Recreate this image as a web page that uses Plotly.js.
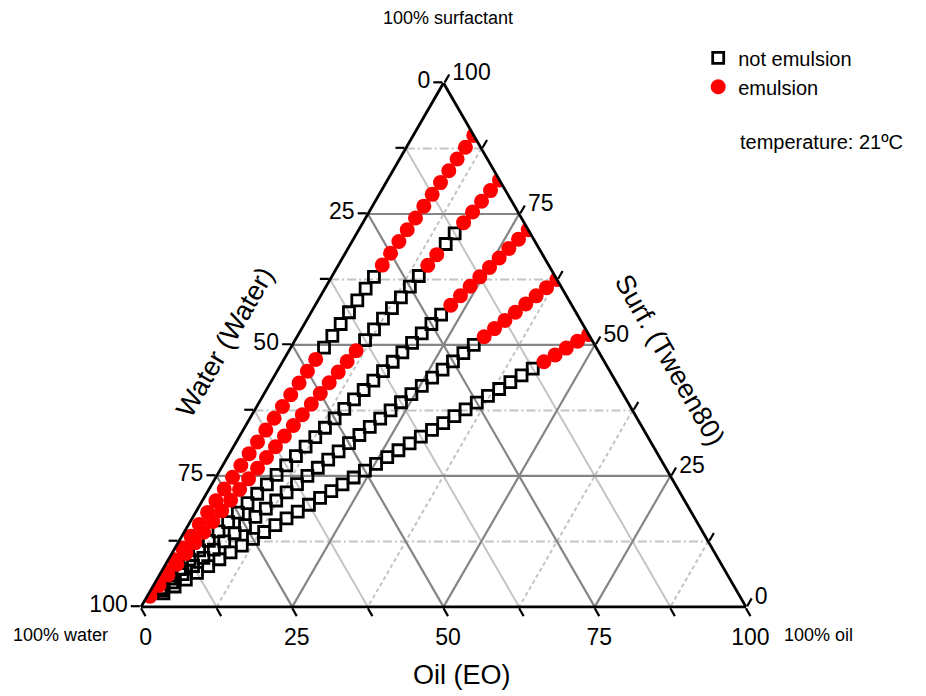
<!DOCTYPE html>
<html>
<head>
<meta charset="utf-8">
<script src="https://cdn.plot.ly/plotly-3.0.1.min.js"></script>
<style>html,body{margin:0;padding:0;background:#fff;}#chart{width:926px;height:696px;}</style>
</head>
<body>
<div id="chart"></div>
<script>
// Surfactant share (%) of the surfactant+oil mix for each dilution line
const surfShare = [90, 81.5, 72, 62.5, 52];

// Water content (%) of points observed as emulsion, per line
const emulsionWater = [
  [0,2.5,5,7.5,10,12.5,15,17.5,20,22.5,25,27.5,47.5,50,52.5,55,57.5,60,62.5,65,67.5,70,72.5,75,77.5,80,82.5,85,87.5,90,92.5,95,97.5],
  [0,2.5,5,7.5,10,17.5,20,40,42.5,45,47.5,50,52.5,55,57.5,60,62.5,65,67.5,70,72.5,75,77.5,80,82.5,85,87.5,90,92.5,95,97.5],
  [0,2.5,5,7.5,10,12.5,15,17.5,20],
  [0,2.5,5,7.5,10,12.5,15,17.5],
  [0,2.5,5,7.5,10]
];

// Water content (%) of points observed as not emulsion, per line
const notEmulsionWater = [
  [30,32.5,35,37.5,40,42.5,45],
  [12.5,15,22.5,25,27.5,30,32.5,35,37.5],
  [22.5,25,27.5,30,32.5,35,37.5,40,42.5,45,47.5,50,52.5,55,57.5,60,62.5,65,67.5,70,72.5,75,77.5,80,82.5,85,87.5,90,92.5,95],
  [20,22.5,25,27.5,30,32.5,35,37.5,40,42.5,45,47.5,50,52.5,55,57.5,60,62.5,65,67.5,70,72.5,75,77.5,80,82.5,85,87.5,90,92.5,95],
  [12.5,15,17.5,20,22.5,25,27.5,30,32.5,35,37.5,40,42.5,45,47.5,50,52.5,55,57.5,60,62.5,65,67.5,70,72.5,75,77.5,80,82.5,85,87.5,90,92.5,95]
];

const majorGrid = [25, 50, 75];
const minorGrid = [12.5, 37.5, 62.5, 87.5];
const tickVals = [0, 12.5, 25, 37.5, 50, 62.5, 75, 87.5, 100];
const tickTextRev = ['100', '', '75', '', '50', '', '25', '', '0'];

const FONT = 'Liberation Sans, Arial, Helvetica, sans-serif';

function buildPoints(waterLists) {
  const a = [], b = [], c = [];
  waterLists.forEach((list, i) => {
    const s = surfShare[i];
    list.forEach(w => {
      b.push(w);
      a.push(s * (100 - w) / 100);
      c.push((100 - s) * (100 - w) / 100);
    });
  });
  return {a, b, c};
}

// grid line helper: family 'a' (const surf), 'b' (const water), 'c' (const oil)
function gridTrace(vals, family, color, dash, width) {
  const a = [], b = [], c = [];
  vals.forEach(v => {
    const r = 100 - v;
    if (family === 'a') { a.push(v, v, null); b.push(r, 0, null); c.push(0, r, null); }
    if (family === 'b') { b.push(v, v, null); a.push(r, 0, null); c.push(0, r, null); }
    if (family === 'c') { c.push(v, v, null); a.push(r, 0, null); b.push(0, r, null); }
  });
  return {type: 'scatterternary', mode: 'lines', a, b, c, showlegend: false, hoverinfo: 'skip',
          line: {color, dash, width}, connectgaps: false};
}

const traces = [
  gridTrace(minorGrid, 'a', '#c4c4c4', '9px,3px,2px,3px', 2),
  gridTrace(minorGrid, 'b', '#c4c4c4', 'solid', 2),
  gridTrace(minorGrid, 'c', '#c4c4c4', '4px,3px', 2),
  gridTrace(majorGrid, 'a', '#858585', 'solid', 2.2),
  gridTrace(majorGrid, 'b', '#858585', 'solid', 2.2),
  gridTrace(majorGrid, 'c', '#858585', 'solid', 2.2)
];

const ne = buildPoints(notEmulsionWater);
const em = buildPoints(emulsionWater);

traces.push({
  type: 'scatterternary', mode: 'markers', name: 'not emulsion',
  a: ne.a, b: ne.b, c: ne.c, legendgroup: 'g1',
  marker: {symbol: 'square-open', size: 11, color: '#000', line: {width: 2.8, color: '#000'}}
});
traces.push({
  type: 'scatterternary', mode: 'markers', name: 'emulsion',
  a: em.a, b: em.b, c: em.c, legendgroup: 'g2',
  marker: {symbol: 'circle', size: 15, color: '#ff0000', line: {width: 0}}
});

function axis() {
  return {
    title: {text: ''},
    tickmode: 'array', tickvals: tickVals, ticktext: tickTextRev,
    tickfont: {size: 23, family: FONT, color: '#000'},
    ticks: 'outside', ticklen: 9, tickwidth: 2.2, tickcolor: '#000',
    linecolor: '#000', linewidth: 2.8, showgrid: false, showline: true
  };
}

const layout = {
  width: 926, height: 696,
  margin: {l: 0, r: 0, t: 0, b: 0},
  paper_bgcolor: '#fff',
  showlegend: true,
  font: {family: FONT, color: '#000'},
  ternary: {
    sum: 100,
    domain: {x: [0.1523, 0.8056], y: [0.128, 0.8807]},
    bgcolor: '#fff',
    aaxis: axis(),
    baxis: axis(),
    caxis: axis()
  },
  legend: {
    x: 0.754, y: 0.945, xanchor: 'left', yanchor: 'top',
    font: {size: 20, family: FONT, color: '#000'},
    bgcolor: 'rgba(0,0,0,0)', tracegroupgap: 0
  },
  annotations: [
    {text: '100% surfactant', xref: 'paper', yref: 'paper', x: 448/926, y: 1 - 18/696,
     xanchor: 'center', yanchor: 'middle', showarrow: false, font: {size: 18, family: FONT}},
    {text: '100% water', xref: 'paper', yref: 'paper', x: 60/926, y: 1 - 635/696,
     xanchor: 'center', yanchor: 'middle', showarrow: false, font: {size: 18, family: FONT}},
    {text: '100% oil', xref: 'paper', yref: 'paper', x: 818/926, y: 1 - 635/696,
     xanchor: 'center', yanchor: 'middle', showarrow: false, font: {size: 18, family: FONT}},
    {text: 'temperature: 21ºC', xref: 'paper', yref: 'paper', x: 0.797, y: 0.796,
     xanchor: 'left', yanchor: 'middle', showarrow: false, font: {size: 20, family: FONT}},
    {text: 'Oil (EO)', xref: 'paper', yref: 'paper', x: 0.499, y: 0.030,
     xanchor: 'center', yanchor: 'middle', showarrow: false, font: {size: 27, family: FONT}},
    {text: 'Water (Water)', xref: 'paper', yref: 'paper', x: 0.243, y: 0.509, textangle: -60,
     xanchor: 'center', yanchor: 'middle', showarrow: false, font: {size: 27, family: FONT}},
    {text: 'Surf. (Tween80)', xref: 'paper', yref: 'paper', x: 0.7235, y: 0.483, textangle: 60,
     xanchor: 'center', yanchor: 'middle', showarrow: false, font: {size: 27, family: FONT}}
  ]
};

Plotly.newPlot('chart', traces, layout, {displayModeBar: false, staticPlot: true});
</script>
</body>
</html>
